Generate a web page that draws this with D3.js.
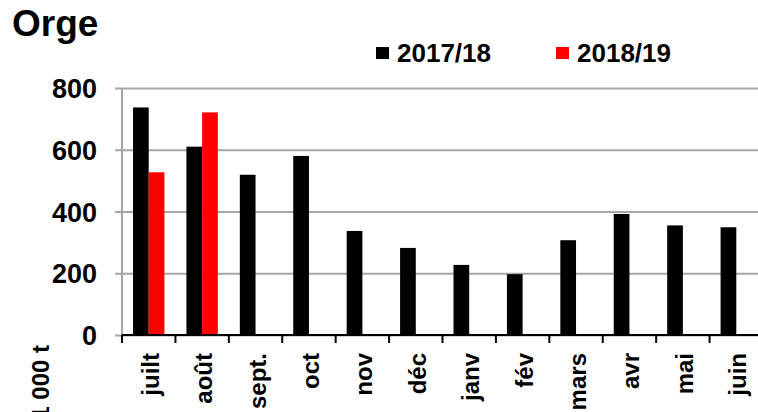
<!DOCTYPE html>
<html>
<head>
<meta charset="utf-8">
<script src="https://cdn.jsdelivr.net/npm/d3@7"></script>
<style>
  body { margin: 0; background: #fff; }
  text { font-family: 'Liberation Sans', Arial, sans-serif; font-weight: bold; fill: #000; }
</style>
</head>
<body>
<div id="graf"></div>
<script>
const anchoTotal = 758
const altoTotal = 412

// datos
const mois = ['juilt', 'août', 'sept.', 'oct', 'nov', 'déc', 'janv', 'fév', 'mars', 'avr', 'mai', 'juin']
const series = ['2017/18', '2018/19']
const valeurs1718 = [737, 610, 519, 580, 337, 282, 227, 197, 307, 392, 355, 349]
const valeurs1819 = [527, 721, null, null, null, null, null, null, null, null, null, null]
const ticksY = [0, 200, 400, 600, 800]
const couleurs = ['#000000', '#ff0000']

const margin = { top: 88, left: 122, right: -5, bottom: 77 }
const ancho = anchoTotal - margin.left - margin.right
const alto = altoTotal - margin.top - margin.bottom

const svg = d3.select('#graf')
  .append('svg')
  .attr('width', anchoTotal)
  .attr('height', altoTotal)

const g = svg.append('g')
  .attr('transform', `translate(${margin.left}, ${margin.top})`)

const y = d3.scaleLinear().domain([0, 800]).range([alto, 0])
const x = d3.scaleBand().domain(mois).range([0, ancho])
const x1 = d3.scaleBand().domain(series).range([11, x.bandwidth() - 11])
const color = d3.scaleOrdinal().domain(series).range(couleurs)

// grille + axe Y
const yAxis = g.append('g')
  .call(d3.axisLeft(y).tickValues(ticksY).tickSize(-ancho).tickPadding(25))
yAxis.select('.domain').remove()
yAxis.selectAll('.tick line')
  .attr('x1', -7)
  .attr('x2', ancho)
  .attr('stroke', '#a6a6a6')
  .attr('stroke-width', 2)
yAxis.selectAll('text')
  .style('font-size', '27px')
  .attr('dy', '0.36em')

g.append('line')
  .attr('x1', 0).attr('x2', 0)
  .attr('y1', 0).attr('y2', alto)
  .attr('stroke', '#a6a6a6')
  .attr('stroke-width', 2)

// barres
const data = mois.map((m, i) => ({ mois: m, valeurs: [
  { serie: series[0], v: valeurs1718[i] },
  { serie: series[1], v: valeurs1819[i] }
] }))

g.selectAll('g.groupe')
  .data(data)
  .enter()
  .append('g')
  .attr('class', 'groupe')
  .attr('transform', d => `translate(${x(d.mois)}, 0)`)
  .selectAll('rect')
  .data(d => d.valeurs.filter(v => v.v != null))
  .enter()
  .append('rect')
  .attr('x', d => x1(d.serie))
  .attr('width', x1.bandwidth())
  .attr('y', d => y(d.v))
  .attr('height', d => alto - y(d.v))
  .attr('fill', d => color(d.serie))

// axe X
const xAxis = g.append('g')
  .attr('transform', `translate(0, ${alto})`)
xAxis.append('line')
  .attr('x1', 0).attr('x2', ancho)
  .attr('stroke', '#000')
  .attr('stroke-width', 2)
xAxis.selectAll('line.tick')
  .data(mois)
  .enter()
  .append('line')
  .attr('class', 'tick')
  .attr('x1', d => x(d)).attr('x2', d => x(d))
  .attr('y1', 0).attr('y2', 8)
  .attr('stroke', '#000')
  .attr('stroke-width', 2)
xAxis.selectAll('text')
  .data(mois)
  .enter()
  .append('text')
  .attr('text-anchor', 'end')
  .attr('transform', d => `translate(${x(d) + x.bandwidth() / 2 + 10}, 18) rotate(-90)`)
  .style('font-size', '24px')
  .text(d => d)

// titre
svg.append('text')
  .attr('x', 12)
  .attr('y', 36)
  .style('font-size', '37px')
  .text('Orge')

// unité
svg.append('text')
  .attr('text-anchor', 'end')
  .attr('transform', 'translate(49, 345) rotate(-90)')
  .style('font-size', '24px')
  .text('1 000 t')

// légende
const legende = svg.append('g')
  .selectAll('g')
  .data(series)
  .enter()
  .append('g')
  .attr('transform', (d, i) => `translate(${[376, 556][i]}, 47)`)
legende.append('rect')
  .attr('width', 13)
  .attr('height', 12)
  .attr('fill', d => color(d))
legende.append('text')
  .attr('x', 21)
  .attr('y', 15)
  .style('font-size', '26px')
  .text(d => d)
</script>
</body>
</html>
